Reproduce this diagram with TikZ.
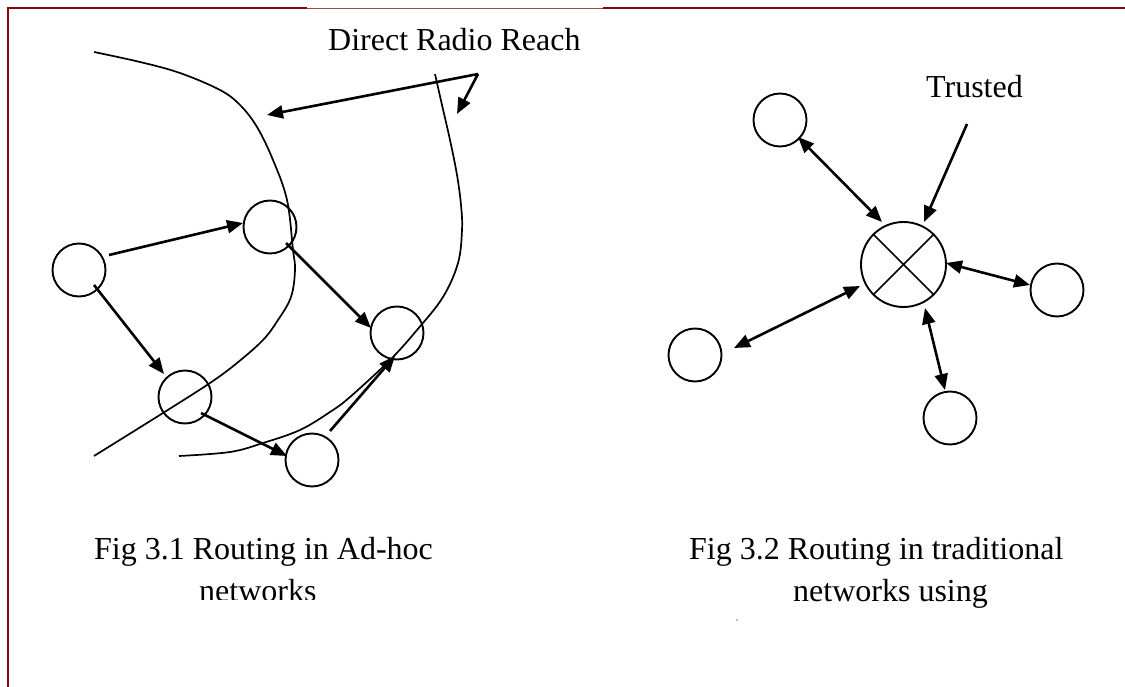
\documentclass[tikz,border=0pt]{standalone}
\usepackage{fontspec}
\setmainfont{Liberation Serif}
\usetikzlibrary{arrows.meta}
\definecolor{bordred}{RGB}{128,10,10}
\begin{document}
\begin{tikzpicture}[x=1pt,y=-1pt,
  nd/.style={circle,draw,line width=1.9pt,minimum size=53pt,inner sep=0pt},
  hub/.style={circle,draw,line width=1.9pt,minimum size=85pt,inner sep=0pt},
  arr/.style={line width=2.6pt,-{Triangle[length=16pt,width=13pt]}},
  darr/.style={line width=2.6pt,{Triangle[length=16pt,width=13pt]}-{Triangle[length=16pt,width=13pt]}},
  reach/.style={line width=1.7pt},
  lbl/.style={font=\fontsize{32}{38}\selectfont,inner sep=0pt,anchor=base west}]
\useasboundingbox (0,0) rectangle (1125,687);
% border
\draw[bordred,line width=1.6pt] (8,687) -- (8,8) -- (307,8);
\draw[bordred!75,line width=0.8pt] (307,8) -- (603,8);
\draw[bordred,line width=1.6pt] (603,8) -- (1125,8);
% radio reach curves
\draw[reach] plot[smooth,tension=0.6] coordinates {(94,52) (140,62) (180,73) (220,90) (240,105) (257,127) (273,160) (287,200) (293,250) (295,270) (291,297) (278,320) (263,340) (237,363) (210,383) (163,413) (94,456)};
\draw[reach] plot[smooth,tension=0.6] coordinates {(435,74) (442,105) (450,140) (457,175) (461,205) (462,230) (458,263) (443,297) (417,330) (390,360) (350,397) (330,412) (300,430) (263,443) (230,452) (179,456)};
% ad-hoc nodes
\node[nd] (A) at (79,270) {};
\node[nd] (B) at (270,227) {};
\node[nd] (C) at (397,333) {};
\node[nd] (D) at (185,397) {};
\node[nd] (E) at (312,460) {};
\draw[arr] ([shift={(30,-15)}]A.center) -- ([shift={(-27,-4)}]B.center);
\draw[arr] ([shift={(15,15)}]A.center) -- ([shift={(-21,-23)}]D.center);
\draw[arr] ([shift={(16,16)}]B.center) -- ([shift={(-26,-5)}]C.center);
\draw[arr] ([shift={(16,16)}]D.center) -- ([shift={(-25,-4)}]E.center);
\draw[arr] ([shift={(18,-29)}]E.center) -- ([shift={(-2,23)}]C.center);
% label with arrows
\node[lbl] (drr) at (328,51) {Direct Radio Reach};
\coordinate (rr) at (478,74);
\coordinate (rr1) at (267,115);
\coordinate (rr2) at (457,114);
\draw[arr] (rr) -- (rr1);
\draw[arr] (rr) -- (rr2);
% traditional network
\node[hub] (X) at (903.5,264.5) {};
\draw[line width=1.6pt] (X.45) -- (X.225) (X.135) -- (X.-45);
\node[nd] (T1) at (780,120) {};
\node[nd] (L) at (695,355) {};
\node[nd] (R) at (1057,290) {};
\node[nd] (S) at (950,418) {};
\draw[darr] ([shift={(18,17)}]T1.center) -- ([shift={(-21.5,-42.5)}]X.center);
\draw[darr] ([shift={(39,-7)}]L.center) -- ([shift={(-43.5,21.5)}]X.center);
\draw[darr] ([shift={(42.5,-1.5)}]X.center) -- ([shift={(-27,-5)}]R.center);
\draw[darr] ([shift={(21.5,43.5)}]X.center) -- ([shift={(-5,-28)}]S.center);
\node[lbl] (tr) at (926,98) {Trusted};
\coordinate (trs) at (967,124);
\draw[arr] (trs) -- ([shift={(20.5,-42.5)}]X.center);
% captions
\node[lbl] (c1a) at (94,559) {Fig 3.1 Routing in Ad-hoc};
\begin{scope}
\clip (150,565) rectangle (360,599);
\node[lbl] (c1b) at (199,601) {networks};
\end{scope}
\node[lbl] (c2a) at (689,559) {Fig 3.2 Routing in traditional};
\node[lbl] (c2b) at (793,601) {networks using};
\fill[gray] (737,620) circle (0.8pt);
\end{tikzpicture}
\end{document}
